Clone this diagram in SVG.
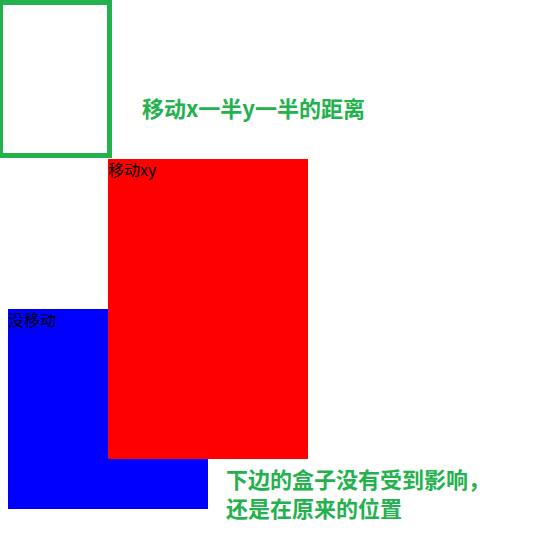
<svg xmlns="http://www.w3.org/2000/svg" width="540" height="559" viewBox="0 0 540 559">
<style>
.note{font-family:"Noto Sans CJK SC","Noto Sans",sans-serif;font-weight:bold;font-size:22px;fill:#22b14c}
.lbl{font-family:"Noto Sans CJK SC","Noto Sans",sans-serif;font-size:16px;fill:#000}
</style>
<rect width="540" height="559" fill="#fff"/>
<g id="moved-outline"><rect x="0.5" y="2.5" width="109" height="153" fill="none" stroke="#22b14c" stroke-width="5"/></g>
<g id="blue-box"><rect x="8" y="309" width="200" height="200" fill="#0000ff"/><text class="lbl" x="8" y="326">没移动</text></g>
<g id="red-box"><rect x="108" y="159" width="200" height="300" fill="#ff0000"/><text class="lbl" x="108" y="176">移动xy</text></g>
<g id="notes">
<text class="note" x="142" y="117">移动x一半y一半的距离</text>
<text class="note" x="226" y="488">下边的盒子没有受到影响，</text>
<text class="note" x="226" y="517">还是在原来的位置</text>
</g>
</svg>
